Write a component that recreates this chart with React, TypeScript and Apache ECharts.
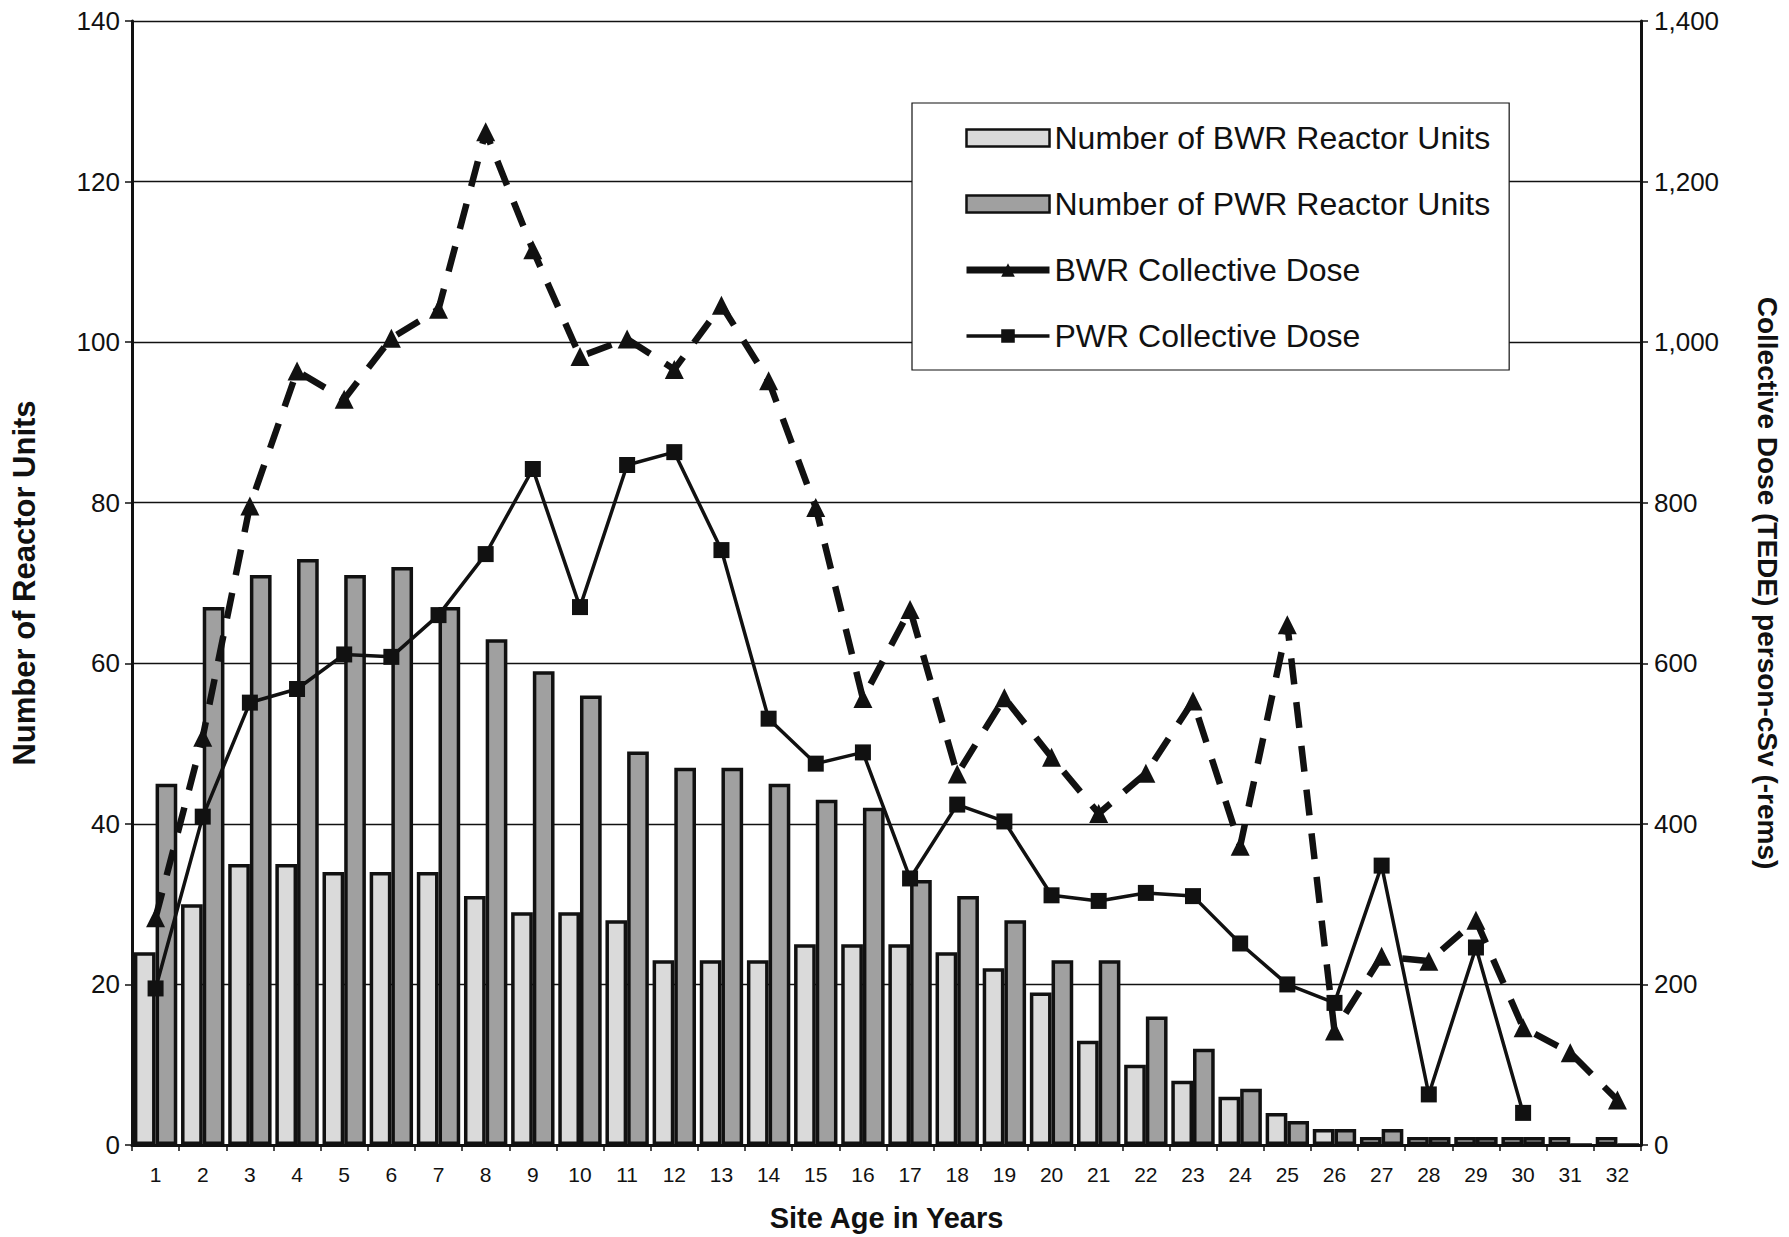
import React, { useEffect, useRef } from "react";
import * as echarts from "echarts";

const categories = [
  "1", "2", "3", "4", "5", "6", "7", "8", "9", "10", "11", "12", "13", "14", "15", "16",
  "17", "18", "19", "20", "21", "22", "23", "24", "25", "26", "27", "28", "29", "30", "31", "32",
];

const bwrUnits = [24, 30, 35, 35, 34, 34, 34, 31, 29, 29, 28, 23, 23, 23, 25, 25, 25, 24, 22, 19, 13, 10, 8, 6, 4, 2, 1, 1, 1, 1, 1, 1];
const pwrUnits = [45, 67, 71, 73, 71, 72, 67, 63, 59, 56, 49, 47, 47, 45, 43, 42, 33, 31, 28, 23, 23, 16, 12, 7, 3, 2, 2, 1, 1, 1, 0, 0];

const bwrDose = [283, 508, 796, 964, 929, 1005, 1041, 1262, 1115, 982, 1004, 966, 1046, 952, 794, 556, 667, 462, 557, 483, 413, 463, 553, 372, 648, 142, 235, 229, 280, 146, 115, 56];
const pwrDose = [195, 409, 551, 568, 611, 608, 660, 736, 842, 670, 847, 863, 741, 531, 475, 489, 332, 424, 403, 311, 304, 314, 310, 251, 200, 177, 348, 63, 246, 40, null, null];

const leftTicks = { min: 0, max: 140, interval: 20 };
const rightTicks = { min: 0, max: 1400, interval: 200 };

const seriesNames = [
  "Number of BWR Reactor Units",
  "Number of PWR Reactor Units",
  "BWR Collective Dose",
  "PWR Collective Dose",
];

const FONT = "Arial, 'Liberation Sans', Helvetica, sans-serif";
const INK = "#111111";

export default function App() {
  const ref = useRef<HTMLDivElement>(null);

  useEffect(() => {
    document.body.style.margin = "0";
    if (!ref.current) return;
    const chart = echarts.init(ref.current, undefined, { renderer: "svg" });

    const fmtComma = (v: number) => {
      const s = String(Math.round(v));
      return s.replace(/\B(?=(\d{3})+(?!\d))/g, ",");
    };

    chart.setOption({
      animation: false,
      backgroundColor: "#ffffff",
      grid: { left: 132, right: 141, top: 21, bottom: 81, containLabel: false },
      legend: {
        orient: "vertical",
        left: 912,
        top: 103,
        padding: [19, 19, 18, 51],
        itemWidth: 83,
        itemHeight: 17,
        itemGap: 34,
        backgroundColor: "#ffffff",
        borderColor: INK,
        borderWidth: 1.2,
        borderRadius: 0,
        selectedMode: false,
        textStyle: { fontSize: 32, color: INK, fontFamily: FONT, lineHeight: 32 },
        data: [
          { name: seriesNames[0], icon: "rect", itemStyle: { borderColor: INK, borderWidth: 2.5 } },
          { name: seriesNames[1], icon: "rect", itemStyle: { borderColor: INK, borderWidth: 2.5 } },
          { name: seriesNames[2], lineStyle: { type: "solid", width: 7 } },
          { name: seriesNames[3], lineStyle: { type: "solid", width: 3.5 } },
        ],
      },
      xAxis: {
        type: "category",
        data: categories,
        name: "Site Age in Years",
        nameLocation: "middle",
        nameGap: 58,
        nameTextStyle: { fontSize: 29, fontWeight: "bold", color: INK, fontFamily: FONT },
        axisLine: { show: true, lineStyle: { color: INK, width: 3 } },
        axisTick: { show: true, length: 6, lineStyle: { color: INK, width: 1.5 } },
        axisLabel: { fontSize: 21, color: INK, fontFamily: FONT, margin: 19, interval: 0 },
        splitLine: { show: false },
      },
      yAxis: [
        {
          type: "value",
          ...leftTicks,
          position: "left",
          name: "Number of Reactor Units",
          nameLocation: "middle",
          nameRotate: 90,
          nameGap: 92,
          nameTextStyle: { fontSize: 31, fontWeight: "bold", color: INK, fontFamily: FONT },
          axisLine: { show: true, lineStyle: { color: INK, width: 3 } },
          axisTick: { show: true, length: 7, lineStyle: { color: INK, width: 1.5 } },
          axisLabel: { fontSize: 26, color: INK, fontFamily: FONT, margin: 12 },
          splitLine: { show: true, lineStyle: { color: INK, width: 1.3 } },
        },
        {
          type: "value",
          ...rightTicks,
          position: "right",
          name: "Collective Dose (TEDE) person-cSv (-rems)",
          nameLocation: "middle",
          nameRotate: -90,
          nameGap: 112,
          nameTextStyle: { fontSize: 28, fontWeight: "bold", color: INK, fontFamily: FONT },
          axisLine: { show: true, lineStyle: { color: INK, width: 3 } },
          axisTick: { show: true, length: 7, lineStyle: { color: INK, width: 1.5 } },
          axisLabel: { fontSize: 26, color: INK, fontFamily: FONT, margin: 13, formatter: fmtComma },
          splitLine: { show: false },
        },
      ],
      series: [
        {
          name: seriesNames[0],
          type: "bar",
          yAxisIndex: 0,
          data: bwrUnits,
          barGap: "0%",
          barCategoryGap: "8%",
          itemStyle: { color: "#dadada", borderColor: INK, borderWidth: 3.5 },
        },
        {
          name: seriesNames[1],
          type: "bar",
          yAxisIndex: 0,
          data: pwrUnits,
          barGap: "0%",
          barCategoryGap: "8%",
          itemStyle: { color: "#a0a0a0", borderColor: INK, borderWidth: 3.5 },
        },
        {
          name: seriesNames[2],
          type: "line",
          yAxisIndex: 1,
          data: bwrDose,
          symbol: "triangle",
          symbolSize: 19,
          showAllSymbol: true,
          lineStyle: { color: INK, width: 6.5, type: [26, 18] },
          itemStyle: { color: INK },
          z: 3,
        },
        {
          name: seriesNames[3],
          type: "line",
          yAxisIndex: 1,
          data: pwrDose,
          symbol: "rect",
          symbolSize: 16,
          showAllSymbol: true,
          connectNulls: false,
          lineStyle: { color: INK, width: 3.5, type: "solid" },
          itemStyle: { color: INK },
          z: 4,
        },
      ],
    });

    return () => {
      chart.dispose();
    };
  }, []);

  return <div ref={ref} style={{ width: 1789, height: 1237 }} />;
}
